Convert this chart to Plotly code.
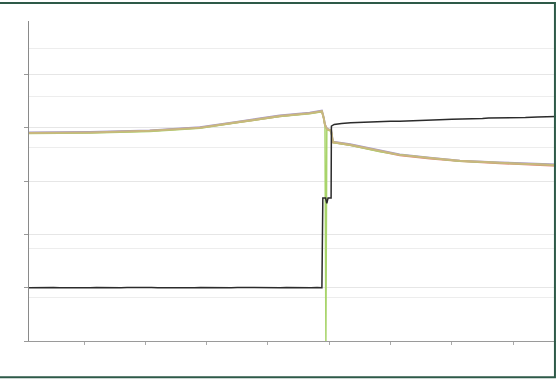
import plotly.graph_objects as go

# ---- data ----
x_color = [-0.9, 0.1, 1.07, 1.89, 2.54, 3.19, 3.68, 3.88, 3.91, 3.93, 3.96, 3.99, 4.03, 4.06,
           4.34, 4.83, 5.15, 5.64, 6.13, 6.78, 7.7]
tan_y = [3.90, 3.91, 3.94, 4.00, 4.11, 4.22, 4.27, 4.31, 4.18, 4.05, 3.98, 3.96, 3.95, 3.73,
         3.68, 3.56, 3.49, 3.43, 3.38, 3.34, 3.30]
purple_y = [3.91, 3.92, 3.95, 4.01, 4.12, 4.23, 4.28, 4.32, 4.19, 4.06, 3.99, 3.97, 3.96, 3.74,
            3.69, 3.57, 3.50, 3.44, 3.38, 3.35, 3.31]
red_y = [3.90, 3.91, 3.94, 4.00, 4.10, 4.21, 4.27, 4.30, 4.17, 4.04, 3.97, 3.95, 3.94, 3.72,
         3.67, 3.55, 3.48, 3.42, 3.37, 3.33, 3.28]
x_green = [-0.9, 0.1, 1.07, 1.89, 2.54, 3.19, 3.68, 3.88, 3.91, 3.93, 3.945, 3.96, 3.99, 4.03,
           4.06, 4.34, 4.83, 5.15, 5.64, 6.13, 6.78, 7.7]
green_y = [3.89, 3.90, 3.93, 3.99, 4.10, 4.21, 4.26, 4.30, 4.17, 4.04, 0.0, 3.97, 3.95, 3.94,
           3.72, 3.67, 3.55, 3.49, 3.43, 3.37, 3.34, 3.30]

x_black = [-0.9, -0.8, -0.7, -0.6, -0.5, -0.4, -0.3, -0.2, -0.1, 0.0, 0.1, 0.2, 0.3, 0.4, 0.5,
           0.6, 0.7, 0.8, 0.9, 1.0, 1.1, 1.2, 1.3, 1.4, 1.5, 1.6, 1.7, 1.8, 1.9, 2.0, 2.1, 2.2,
           2.3, 2.4, 2.5, 2.6, 2.7, 2.8, 2.9, 3.0, 3.1, 3.2, 3.3, 3.4, 3.5, 3.6, 3.7, 3.8, 3.88,
           3.895, 3.94, 3.96, 3.98, 4.03, 4.035, 4.08, 4.2, 4.35, 4.5, 4.65, 4.83, 5.0, 5.15,
           5.3, 5.5, 5.64, 5.8, 6.0, 6.13, 6.3, 6.5, 6.6, 6.8, 7.0, 7.2, 7.4, 7.6, 7.7]
black_y = [1.000, 1.004, 0.997, 1.001, 1.004, 1.000, 0.997, 1.003, 1.000, 1.001, 0.997, 1.004,
           1.000, 1.003, 0.998, 1.000, 1.001, 1.004, 0.997, 1.000, 1.003, 1.000, 0.998, 1.001,
           1.004, 1.000, 1.001, 0.997, 1.003, 1.000, 1.001, 1.004, 0.998, 1.000, 1.003, 1.001,
           0.997, 1.000, 1.003, 1.000, 1.001, 0.998, 1.004, 1.000, 1.003, 1.001, 0.998, 1.004,
           1.000,
           2.68, 2.68, 2.58, 2.68, 2.68, 4.03, 4.06, 4.08, 4.09, 4.10, 4.11, 4.11, 4.12, 4.12,
           4.13, 4.13, 4.14, 4.15, 4.16, 4.16, 4.17, 4.17, 4.18, 4.18, 4.19, 4.19, 4.20, 4.20, 4.21]

y_ticks = [0, 1, 2, 3, 4, 5]
y_extra_grid = [0.81, 1.74, 3.62, 4.58, 5.49, 6]
x_ticks = [0, 1, 2, 3, 4, 5, 6, 7]

fig = go.Figure()
fig.add_trace(go.Scatter(x=x_color, y=red_y, mode="lines", line=dict(color="#e08878", width=1.6), name="B"))
fig.add_trace(go.Scatter(x=x_color, y=purple_y, mode="lines", line=dict(color="#a596cc", width=1.8), name="C"))
fig.add_trace(go.Scatter(x=x_green, y=green_y, mode="lines", line=dict(color="#a8d46a", width=1.5), name="D"))
fig.add_trace(go.Scatter(x=x_color, y=tan_y, mode="lines", line=dict(color="#c9b77e", width=2.0), name="A"))
fig.add_trace(go.Scatter(x=x_black, y=black_y, mode="lines", line=dict(color="#2b2b2b", width=1.5), name="E"))

fig.update_layout(
    width=556, height=380,
    margin=dict(l=29, r=0, t=21, b=39),
    paper_bgcolor="white", plot_bgcolor="white",
    showlegend=False,
    xaxis=dict(range=[-0.9, 7.7], tickvals=x_ticks, showticklabels=False,
               ticks="outside", ticklen=3, tickcolor="#aaaaaa",
               showline=True, linecolor="#9a9a9a", linewidth=1,
               showgrid=False, zeroline=False),
    yaxis=dict(range=[0, 6], tickvals=y_ticks, showticklabels=False,
               ticks="outside", ticklen=4, tickcolor="#999999",
               showline=True, linecolor="#8a8a8a", linewidth=1,
               showgrid=True, gridcolor="#e6e6e6", gridwidth=1, zeroline=False,
               minor=dict(tickmode="array", tickvals=y_extra_grid, showgrid=True,
                          gridcolor="#ededed", gridwidth=1, ticks="")),
)

fig.add_shape(type="rect", xref="paper", yref="paper",
              x0=-0.2, x1=0.998, y0=-0.113, y1=1.056,
              line=dict(color="#2e5a48", width=2), fillcolor="rgba(0,0,0,0)", layer="above")

fig.write_html("out.html", config={"displayModeBar": False},
               post_script="document.body.style.margin='0';document.body.style.overflow='hidden';")
